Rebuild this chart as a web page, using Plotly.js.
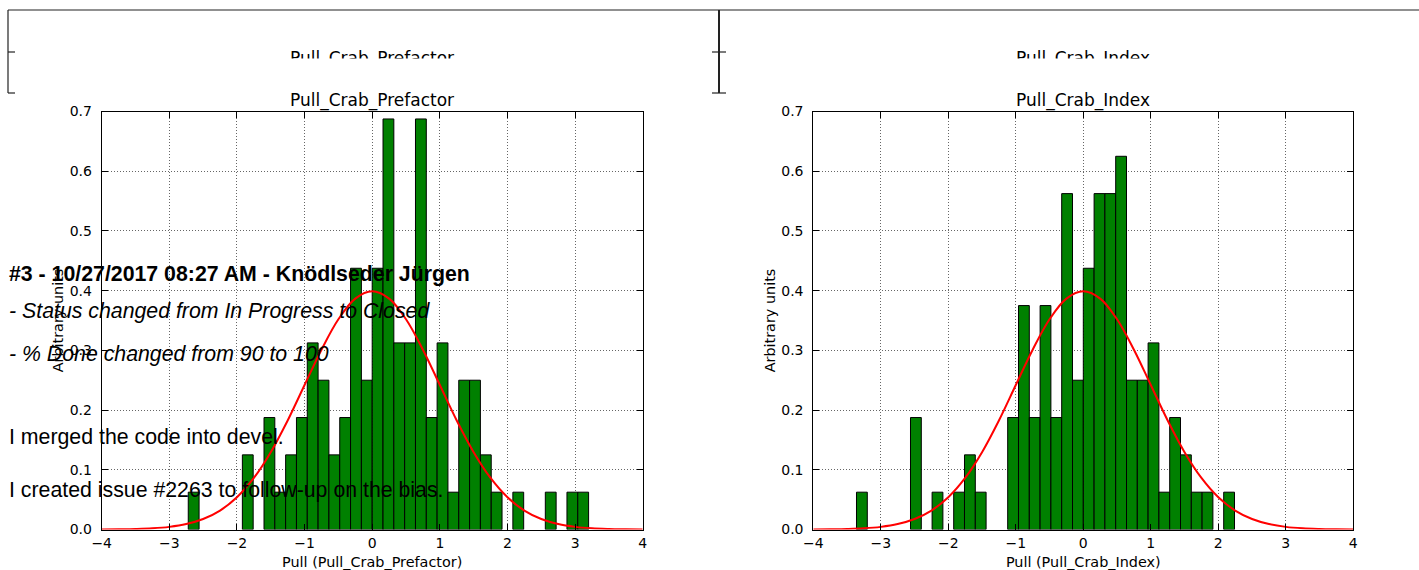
<!DOCTYPE html>
<html>
<head>
<meta charset="utf-8">
<script src="https://cdn.plot.ly/plotly-3.0.1.min.js"></script>
<style>
  html, body { margin: 0; padding: 0; background: #ffffff; }
  #chart { width: 1419px; height: 570px; }
</style>
</head>
<body>
<div id="chart"></div>
<script>
// ---------------- data ----------------
// Histogram bin lower edges (bin width 0.16) and normalised heights
const prefactorBinStart = [-2.72, -1.92, -1.60, -1.44, -1.28, -1.12, -0.96, -0.80, -0.64, -0.48, -0.32, -0.16,
                           0.00, 0.16, 0.32, 0.48, 0.64, 0.80, 0.96, 1.12, 1.28, 1.44, 1.60, 1.76, 2.08, 2.56, 2.88, 3.04];
const prefactorDensity  = [0.0625, 0.125, 0.1875, 0.0625, 0.125, 0.1875, 0.3125, 0.25, 0.125, 0.1875, 0.4375, 0.25,
                           0.4375, 0.6875, 0.3125, 0.3125, 0.6875, 0.1875, 0.3125, 0.0625, 0.25, 0.25, 0.125, 0.0625, 0.0625, 0.0625, 0.0625, 0.0625];

const indexBinStart = [-3.36, -2.56, -2.24, -1.92, -1.76, -1.60, -1.12, -0.96, -0.80, -0.64, -0.48, -0.32, -0.16,
                       0.00, 0.16, 0.32, 0.48, 0.64, 0.80, 0.96, 1.12, 1.28, 1.44, 1.60, 1.76, 2.08];
const indexDensity  = [0.0625, 0.1875, 0.0625, 0.0625, 0.125, 0.0625, 0.1875, 0.375, 0.1875, 0.375, 0.1875, 0.5625, 0.25,
                       0.4375, 0.5625, 0.5625, 0.625, 0.25, 0.25, 0.3125, 0.0625, 0.1875, 0.125, 0.0625, 0.0625, 0.0625];

const binWidth = 0.16;

// Red reference curve
const curveX = [-4, -3.75, -3.5, -3.25, -3, -2.75, -2.5, -2.25, -2, -1.75, -1.5, -1.25, -1, -0.75, -0.5, -0.25,
                0, 0.25, 0.5, 0.75, 1, 1.25, 1.5, 1.75, 2, 2.25, 2.5, 2.75, 3, 3.25, 3.5, 3.75, 4];
const curveY = [0.0001, 0.0004, 0.0009, 0.0020, 0.0044, 0.0091, 0.0175, 0.0317, 0.0540, 0.0863, 0.1295, 0.1826, 0.2420, 0.3011, 0.3521, 0.3867,
                0.3989, 0.3867, 0.3521, 0.3011, 0.2420, 0.1826, 0.1295, 0.0863, 0.0540, 0.0317, 0.0175, 0.0091, 0.0044, 0.0020, 0.0009, 0.0004, 0.0001];

const xTicks = [-4, -3, -2, -1, 0, 1, 2, 3, 4];
const yTicks = [0.0, 0.1, 0.2, 0.3, 0.4, 0.5, 0.6, 0.7];

const panelTitles = ['Pull_Crab_Prefactor', 'Pull_Crab_Index'];
const xLabels = ['Pull (Pull_Crab_Prefactor)', 'Pull (Pull_Crab_Index)'];
const yLabel = 'Arbitrary units';

const journalLines = [
  '<b>#3 - 10/27/2017 08:27 AM - Knödlseder Jürgen</b>',
  '<i>- Status changed from In Progress to Closed</i>',
  '<i>- % Done changed from 90 to 100</i>',
  'I merged the code into devel.',
  'I created issue #2263 to follow-up on the bias.'
];

// ---------------- layout helpers ----------------
const W = 1419, H = 570;
const px = x => x / W;
const py = y => 1 - y / H;

const mplFont = 'DejaVu Sans, Bitstream Vera Sans, sans-serif';
const gridCol = 'rgba(0,0,0,0.6)';
const gridDash = '1px,2px';

function makeX(domain, anchor, label) {
  return {
    domain: domain, anchor: anchor, range: [-4, 4],
    tickmode: 'array', tickvals: xTicks,
    ticks: 'inside', ticklen: 6, tickwidth: 1, tickcolor: '#000',
    mirror: 'allticks', showline: true, linecolor: '#000', linewidth: 1,
    showgrid: true, gridcolor: gridCol, griddash: gridDash, gridwidth: 1,
    zeroline: false, fixedrange: true,
    tickfont: {family: mplFont, size: 14, color: '#000'},
    ticklabelstandoff: 1,
    title: {text: label, font: {family: mplFont, size: 14.4, color: '#000'}, standoff: 10}
  };
}
function makeY(domain, anchor) {
  return {
    domain: domain, anchor: anchor, range: [0, 0.7],
    tickmode: 'array', tickvals: yTicks, tickformat: '.1f',
    ticks: 'inside', ticklen: 6, tickwidth: 1, tickcolor: '#000',
    mirror: 'allticks', showline: true, linecolor: '#000', linewidth: 1,
    showgrid: true, gridcolor: gridCol, griddash: gridDash, gridwidth: 1,
    zeroline: false, fixedrange: true,
    tickfont: {family: mplFont, size: 14, color: '#000'},
    ticklabelstandoff: 6,
    title: {text: yLabel, font: {family: mplFont, size: 14.4, color: '#000'}, standoff: 2}
  };
}

const yDom = [py(529.5), py(111.5)];

const barStyle = {color: '#008000', line: {color: '#000', width: 1}};
const curveStyle = {color: '#ff0000', width: 2, shape: 'spline', smoothing: 1};

const traces = [
  {type: 'bar', x: prefactorBinStart, y: prefactorDensity, width: binWidth, offset: 0,
   marker: barStyle, xaxis: 'x', yaxis: 'y', hoverinfo: 'skip'},
  {type: 'scatter', mode: 'lines', x: curveX, y: curveY, line: curveStyle,
   xaxis: 'x', yaxis: 'y', hoverinfo: 'skip'},
  {type: 'bar', x: indexBinStart, y: indexDensity, width: binWidth, offset: 0,
   marker: barStyle, xaxis: 'x2', yaxis: 'y2', hoverinfo: 'skip'},
  {type: 'scatter', mode: 'lines', x: curveX, y: curveY, line: curveStyle,
   xaxis: 'x2', yaxis: 'y2', hoverinfo: 'skip'}
];

// decorative frame fragments at the top of the page
const frameCol = '#222';
function seg(x0, y0, x1, y1, w) {
  return {type: 'line', xref: 'paper', yref: 'paper', x0: px(x0), y0: py(y0), x1: px(x1), y1: py(y1),
          line: {color: frameCol, width: w || 1.2}};
}
const shapes = [
  seg(8, 10, 1419, 10),
  seg(8, 10, 8, 93),
  seg(8, 52, 15, 52),
  seg(8, 93, 15, 93),
  seg(719, 10, 719, 93, 2),
  seg(712, 52, 726, 52),
  seg(712, 93, 726, 93)
];

const annotations = [];
const centers = [372.2, 1083.3];
// clipped duplicate titles near the top
centers.forEach((cx, i) => {
  annotations.push({xref: 'paper', yref: 'paper', x: px(cx), y: py(59), xanchor: 'center', yanchor: 'middle',
    text: panelTitles[i], showarrow: false, font: {family: mplFont, size: 17, color: '#000'}});
});
centers.forEach((cx) => {
  annotations.push({xref: 'paper', yref: 'paper', x: px(cx), y: py(57.5), xanchor: 'center', yanchor: 'top',
    text: ' ', showarrow: false, width: 230, height: 24, bgcolor: '#ffffff', borderpad: 0,
    font: {size: 2, color: '#ffffff'}});
});
// panel titles
centers.forEach((cx, i) => {
  annotations.push({xref: 'paper', yref: 'paper', x: px(cx), y: py(100.5), xanchor: 'center', yanchor: 'middle',
    text: panelTitles[i], showarrow: false, font: {family: mplFont, size: 17, color: '#000'}});
});
// journal text overlaid on the page
const journalY = [274, 311, 354, 437, 490];
journalLines.forEach((t, i) => {
  annotations.push({xref: 'paper', yref: 'paper', x: px(7), y: py(journalY[i]), xanchor: 'left', yanchor: 'middle',
    text: t, showarrow: false, font: {family: 'Liberation Sans, Arial, Helvetica, sans-serif', size: 21.3, color: '#000'}});
});

const layout = {
  width: W, height: H,
  margin: {l: 0, r: 0, t: 0, b: 0},
  paper_bgcolor: '#ffffff', plot_bgcolor: '#ffffff',
  showlegend: false, bargap: 0,
  xaxis: makeX([px(101.7), px(642.7)], 'y', xLabels[0]),
  yaxis: makeY(yDom, 'x'),
  xaxis2: makeX([px(813.3), px(1353.3)], 'y2', xLabels[1]),
  yaxis2: makeY(yDom, 'x2'),
  shapes: shapes,
  annotations: annotations
};

Plotly.newPlot('chart', traces, layout, {displayModeBar: false, staticPlot: true});
</script>
</body>
</html>
